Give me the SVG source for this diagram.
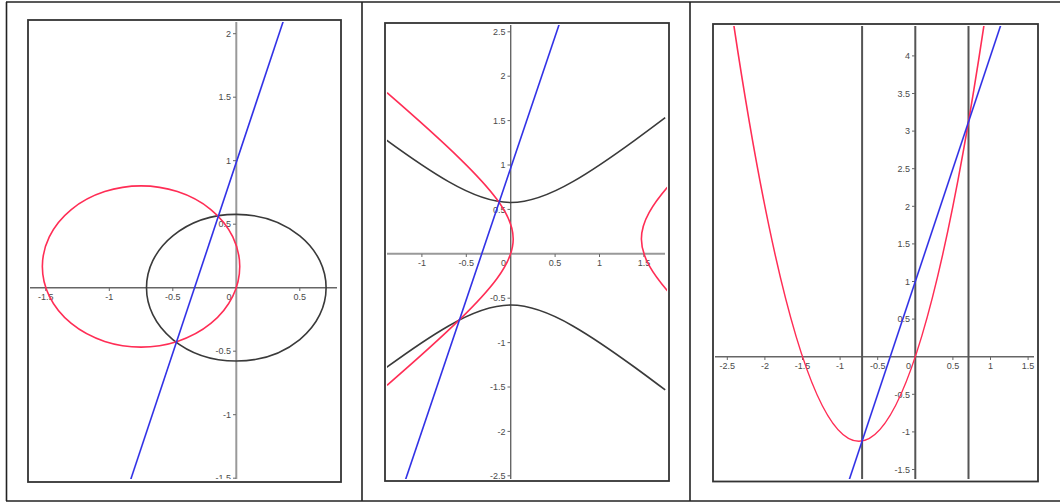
<svg xmlns="http://www.w3.org/2000/svg" width="1060" height="503" viewBox="0 0 1060 503">
<style>
.border{stroke:#222;stroke-width:1.6;fill:none}
.frame{stroke:#333;stroke-width:1.8;fill:#fff}
.ax{stroke:#666;stroke-width:1.4;fill:none}
.axl{stroke:#999;stroke-width:2;fill:none}
.tk{stroke:#666;stroke-width:1;fill:none}
.red{stroke:#ff2d55;stroke-width:1.6;fill:none}
.blue{stroke:#3232e6;stroke-width:1.6;fill:none}
.blk{stroke:#3a3a3a;stroke-width:1.6;fill:none}
.vl{stroke:#555;stroke-width:2;fill:none}
text{font-family:"Liberation Sans",Arial,sans-serif;font-size:9px;fill:#4a4a4a}
.ty{text-anchor:end}
.tx{text-anchor:middle}
</style>
<defs>
<clipPath id="c1"><rect x="30" y="22" width="309" height="457"/></clipPath>
<clipPath id="c2"><rect x="387" y="25" width="280" height="454"/></clipPath>
<clipPath id="c3"><rect x="715" y="26" width="321" height="453"/></clipPath>
</defs>
<rect width="1060" height="503" fill="#fff"/>
<g id="table">
<line class="border" x1="6" y1="2" x2="1060" y2="2"/>
<line class="border" x1="6" y1="501" x2="1060" y2="501"/>
<line class="border" x1="6.5" y1="2" x2="6.5" y2="501"/>
<line class="border" x1="362" y1="2" x2="362" y2="501"/>
<line class="border" x1="690" y1="2" x2="690" y2="501"/>
</g>

<g id="panel1">
<rect class="frame" x="28" y="20" width="313" height="462"/>
<g clip-path="url(#c1)">
<line class="axl" x1="236.3" y1="22" x2="236.3" y2="479"/>
<line class="ax" x1="30" y1="287.7" x2="337" y2="287.7"/>
<g class="tk">
<path d="M233,33.7h3M233,97.2h3M233,160.7h3M233,224.2h3M233,351.2h3M233,414.7h3M233,478.2h3"/>
<path d="M45.8,288v3M109.3,288v3M172.8,288v3M299.8,288v3"/>
</g>
<text class="ty" x="231" y="36.9">2</text>
<text class="ty" x="231" y="100.4">1.5</text>
<text class="ty" x="231" y="163.9">1</text>
<text class="ty" x="231" y="227.4">0.5</text>
<text class="ty" x="231" y="354.4">-0.5</text>
<text class="ty" x="231" y="417.9">-1</text>
<text class="ty" x="231" y="481.4">-1.5</text>
<text class="tx" x="45.8" y="300">-1.5</text>
<text class="tx" x="109.3" y="300">-1</text>
<text class="tx" x="172.8" y="300">-0.5</text>
<text class="tx" x="229" y="300">0</text>
<text class="tx" x="299.8" y="300">0.5</text>
<ellipse class="blk" cx="236.3" cy="287.7" rx="89.8" ry="73.3"/>
<ellipse class="red" cx="141.05" cy="266.5" rx="98.7" ry="80.6"/>
<line class="blue" x1="124.1" y1="499.4" x2="286.6" y2="11.2"/>
</g>
</g>

<g id="panel2">
<rect class="frame" x="385" y="23" width="284" height="458"/>
<g clip-path="url(#c2)">
<line class="ax" x1="510.7" y1="25" x2="510.7" y2="479"/>
<line class="axl" x1="387" y1="253.8" x2="665" y2="253.8"/>
<g class="tk">
<path d="M507.5,31.8h3M507.5,76.2h3M507.5,120.6h3M507.5,165h3M507.5,209.4h3M507.5,298.2h3M507.5,342.6h3M507.5,387h3M507.5,431.4h3M507.5,475.8h3"/>
<path d="M421.9,254v3M466.3,254v3M555.1,254v3M599.5,254v3M643.9,254v3"/>
</g>
<text class="ty" x="505.5" y="35">2.5</text>
<text class="ty" x="505.5" y="79.4">2</text>
<text class="ty" x="505.5" y="123.8">1.5</text>
<text class="ty" x="505.5" y="168.2">1</text>
<text class="ty" x="505.5" y="212.6">0.5</text>
<text class="ty" x="505.5" y="301.4">-0.5</text>
<text class="ty" x="505.5" y="345.8">-1</text>
<text class="ty" x="505.5" y="390.2">-1.5</text>
<text class="ty" x="505.5" y="434.6">-2</text>
<text class="ty" x="505.5" y="479">-2.5</text>
<text class="tx" x="421.9" y="266">-1</text>
<text class="tx" x="466.3" y="266">-0.5</text>
<text class="tx" x="503.5" y="266">0</text>
<text class="tx" x="555.1" y="266">0.5</text>
<text class="tx" x="599.5" y="266">1</text>
<text class="tx" x="643.9" y="266">1.5</text>
<path class="blk" d="M386.38,140.08 Q424.43,167.81 448.54,181.66 Q484.87,202.53 510.7,202.53 Q536.53,202.53 572.86,181.66 Q596.97,167.81 635.02,140.08 Q648.40,130.32 665.21,117.62"/>
<path class="blk" d="M386.38,367.52 Q424.43,339.79 448.54,325.94 Q484.87,305.07 510.7,305.07 Q536.53,305.07 572.86,325.94 Q596.97,339.79 635.02,367.52 Q648.40,377.28 665.21,389.98"/>
<path class="red" d="M387,92.69 Q434.37,133.77 460.31,159.08 Q484.54,182.73 496.66,199.04 Q513.21,221.3 513.21,239 Q513.21,256.7 496.66,278.96 Q484.54,295.27 460.31,318.92 Q434.37,344.23 387,385.31"/>
<path class="red" d="M668.76,185.72 Q655.73,200.63 649.21,212.36 Q641.39,226.45 641.39,239 Q641.39,251.55 649.21,265.64 Q655.73,277.37 668.76,292.28"/>
<line class="blue" x1="395.3" y1="510" x2="564.7" y2="8"/>
</g>
</g>

<g id="panel3">
<rect class="frame" x="713" y="24" width="325" height="457.5"/>
<g clip-path="url(#c3)">
<line class="ax" x1="715" y1="356.7" x2="1034" y2="356.7"/>
<line class="vl" x1="915.3" y1="26" x2="915.3" y2="479"/>
<line class="vl" x1="862.1" y1="26" x2="862.1" y2="479"/>
<line class="vl" x1="968.5" y1="26" x2="968.5" y2="479"/>
<g class="tk">
<path d="M912,55.9h3M912,93.5h3M912,131.1h3M912,168.7h3M912,206.3h3M912,243.9h3M912,281.5h3M912,319.1h3M912,394.3h3M912,431.9h3M912,469.5h3"/>
<path d="M727.3,357v3M764.9,357v3M802.5,357v3M840.1,357v3M877.7,357v3M952.9,357v3M990.5,357v3M1028.1,357v3"/>
</g>
<text class="ty" x="910" y="59.1">4</text>
<text class="ty" x="910" y="96.7">3.5</text>
<text class="ty" x="910" y="134.3">3</text>
<text class="ty" x="910" y="171.9">2.5</text>
<text class="ty" x="910" y="209.5">2</text>
<text class="ty" x="910" y="247.1">1.5</text>
<text class="ty" x="910" y="284.7">1</text>
<text class="ty" x="910" y="322.3">0.5</text>
<text class="ty" x="910" y="397.5">-0.5</text>
<text class="ty" x="910" y="435.1">-1</text>
<text class="ty" x="910" y="472.7">-1.5</text>
<text class="tx" x="727.3" y="369">-2.5</text>
<text class="tx" x="764.9" y="369">-2</text>
<text class="tx" x="802.5" y="369">-1.5</text>
<text class="tx" x="840.1" y="369">-1</text>
<text class="tx" x="877.7" y="369">-0.5</text>
<text class="tx" x="908.5" y="369">0</text>
<text class="tx" x="952.9" y="369">0.5</text>
<text class="tx" x="990.5" y="369">1</text>
<text class="tx" x="1028.1" y="369">1.5</text>
<path class="red" d="M731.06,6.64 Q858.9,875.96 986.74,6.64"/>
<line class="blue" x1="840.1" y1="507.1" x2="1005.54" y2="10.78"/>
</g>
</g>
</svg>
